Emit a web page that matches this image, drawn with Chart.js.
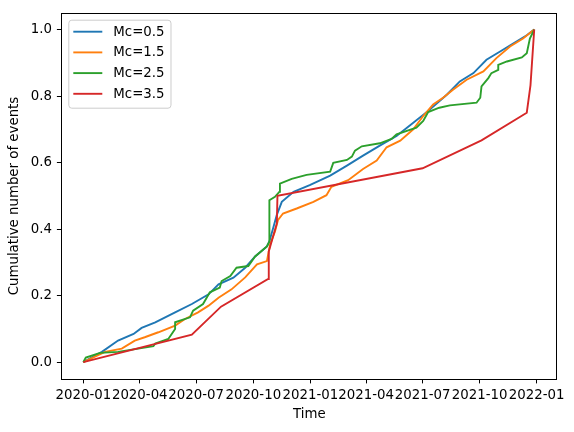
<!DOCTYPE html>
<html>
<head>
<meta charset="utf-8">
<title>Cumulative number of events</title>
<script src="https://cdn.jsdelivr.net/npm/chart.js@4/dist/chart.umd.min.js"></script>
<style>
  html, body { margin: 0; padding: 0; background: #fff; }
  #wrap { width: 574px; height: 432px; }
</style>
</head>
<body>
<div id="wrap"><canvas id="events-chart" width="574" height="432"></canvas></div>
<script>
// Days counted from 2020-01-01, values are the cumulative share of events
const seriesLabels = ['Mc=0.5', 'Mc=1.5', 'Mc=2.5', 'Mc=3.5'];
const seriesColors = ['#1f77b4', '#ff7f0e', '#2ca02c', '#d62728'];

const mc05Days = [0, 30, 56, 81, 94, 116, 148, 175, 202, 218, 242, 261, 277, 296, 300, 306, 312, 320, 339, 365,
  398, 425, 451, 478, 505, 532, 559, 586, 607, 629, 650, 672, 693, 715, 727];
const mc05Values = [0, 0.031, 0.065, 0.085, 0.103, 0.12, 0.15, 0.175, 0.204, 0.234, 0.254, 0.284, 0.318, 0.348, 0.363,
  0.403, 0.443, 0.482, 0.512, 0.532, 0.561, 0.591, 0.621, 0.651, 0.68, 0.72, 0.76, 0.804, 0.844, 0.869,
  0.909, 0.934, 0.958, 0.983, 1.0];

const mc15Days = [0, 35, 62, 83, 99, 121, 148, 164, 185, 202, 218, 239, 261, 280, 296, 301, 309, 314, 322, 344,
  371, 392, 400, 427, 451, 473, 489, 511, 532, 548, 564, 580, 596, 618, 645, 666, 688, 709, 727];
const mc15Values = [0, 0.031, 0.041, 0.065, 0.075, 0.09, 0.11, 0.13, 0.15, 0.17, 0.194, 0.219, 0.255, 0.294, 0.304,
  0.353, 0.393, 0.428, 0.447, 0.462, 0.482, 0.502, 0.527, 0.547, 0.581, 0.606, 0.646, 0.666, 0.7, 0.74,
  0.775, 0.795, 0.819, 0.849, 0.874, 0.914, 0.949, 0.973, 1.0];

const mc25Days = [0, 4, 27, 56, 113, 116, 137, 148, 148, 172, 177, 193, 204, 220, 223, 237, 247, 266, 277, 296,
  300, 300, 309, 316, 317, 336, 360, 398, 403, 425, 433, 438, 449, 478, 497, 505, 537, 548, 556, 574,
  591, 634, 640, 642, 653, 658, 669, 669, 683, 707, 715, 720, 727];
const mc25Values = [0, 0.014, 0.028, 0.031, 0.048, 0.056, 0.07, 0.10, 0.12, 0.135, 0.155, 0.175, 0.21, 0.224, 0.244,
  0.259, 0.284, 0.289, 0.318, 0.348, 0.363, 0.487, 0.497, 0.512, 0.537, 0.551, 0.563, 0.573, 0.599, 0.608,
  0.618, 0.636, 0.649, 0.658, 0.671, 0.685, 0.705, 0.725, 0.752, 0.765, 0.772, 0.78, 0.795, 0.829, 0.854,
  0.869, 0.879, 0.894, 0.904, 0.916, 0.929, 0.973, 1.0];

const mc35Days = [0, 175, 222, 298, 299, 312, 313, 547, 642, 715, 721, 724, 727];
const mc35Values = [0, 0.083, 0.167, 0.25, 0.333, 0.417, 0.5, 0.583, 0.667, 0.75, 0.833, 0.917, 1.0];

const xTickLabels = ['2020-01', '2020-04', '2020-07', '2020-10', '2021-01', '2021-04', '2021-07', '2021-10', '2022-01'];
const yTickValues = [0, 0.2, 0.4, 0.6, 0.8, 1.0];

const FONT = { family: 'DejaVu Sans', size: 13.33 };
const DAY_MS = 86400000;
const START_MS = Date.parse('2020-01-01T00:00:00Z');

// "2020-04" -> days since 2020-01-01
function monthToDays(label) {
  return (Date.parse(label + '-01T00:00:00Z') - START_MS) / DAY_MS;
}
const xTickValues = xTickLabels.map(monthToDays);

function toPoints(days, values) {
  return days.map((d, i) => ({ x: d, y: values[i] }));
}

/**
 * Khung bao quanh vùng vẽ + legend kiểu matplotlib (góc trên trái)
 */
const frameAndLegend = {
  id: 'frameAndLegend',
  afterDatasetsDraw(chart) {
    const { ctx, chartArea: a } = chart;
    ctx.save();
    ctx.strokeStyle = '#000';
    ctx.lineWidth = 1;
    ctx.strokeRect(Math.round(a.left) + 0.5, Math.round(a.top) + 0.5,
      Math.round(a.right - a.left) - 1, Math.round(a.bottom - a.top));

    ctx.font = `${FONT.size}px "${FONT.family}"`;
    const sets = chart.data.datasets;
    const textW = Math.max(...sets.map(ds => ctx.measureText(ds.label).width));
    const bx = a.left + 7, by = a.top + 6.7;
    const bw = 45 + textW + 6, bh = 88;

    ctx.beginPath();
    ctx.roundRect(bx + 0.5, by + 0.5, bw, bh, 3);
    ctx.fillStyle = 'rgba(255,255,255,0.8)';
    ctx.fill();
    ctx.strokeStyle = '#cccccc';
    ctx.stroke();

    ctx.textBaseline = 'middle';
    ctx.textAlign = 'left';
    sets.forEach((ds, i) => {
      const y = by + 12 + i * 20.7;
      ctx.beginPath();
      ctx.moveTo(bx + 5, y);
      ctx.lineTo(bx + 34, y);
      ctx.strokeStyle = ds.borderColor;
      ctx.lineWidth = ds.borderWidth;
      ctx.stroke();
      ctx.fillStyle = '#000';
      ctx.fillText(ds.label, bx + 45, y + 0.5);
    });
    ctx.restore();
  }
};

function renderChart() {
  const ctx = document.getElementById('events-chart');
  Chart.defaults.color = '#000';
  Chart.defaults.font.family = FONT.family;
  Chart.defaults.font.size = FONT.size;

  const dayArrays = [mc05Days, mc15Days, mc25Days, mc35Days];
  const valueArrays = [mc05Values, mc15Values, mc25Values, mc35Values];

  const datasets = seriesLabels.map((label, i) => ({
    label: label,
    data: toPoints(dayArrays[i], valueArrays[i]),
    borderColor: seriesColors[i],
    backgroundColor: seriesColors[i],
    borderWidth: 1.9,
    pointRadius: 0,
    tension: 0,
    fill: false,
    order: seriesLabels.length - i // red drawn last, like matplotlib
  }));

  const tickGrid = { drawOnChartArea: false, drawTicks: true, tickLength: 4.4, tickColor: '#000', tickWidth: 1 };

  new Chart(ctx, {
    type: 'line',
    data: { datasets: datasets },
    options: {
      responsive: false,
      animation: false,
      events: [],
      layout: { padding: { left: 0, top: 9.3, right: 16.7, bottom: 0 } },
      plugins: { legend: { display: false }, tooltip: { enabled: false } },
      scales: {
        x: {
          type: 'linear',
          min: -35.5,
          max: 764.2,
          grid: tickGrid,
          border: { display: false },
          afterFit: scale => { scale.height = 53; },
          afterBuildTicks: scale => { scale.ticks = xTickValues.map(v => ({ value: v })); },
          ticks: {
            autoSkip: false,
            maxRotation: 0,
            minRotation: 0,
            padding: 4,
            font: FONT,
            callback: (value, index) => xTickLabels[index]
          },
          title: { display: true, text: 'Time', font: FONT, padding: { top: 0, bottom: 9.5 } }
        },
        y: {
          type: 'linear',
          min: -0.0505,
          max: 1.0497,
          grid: tickGrid,
          border: { display: false },
          afterFit: scale => { scale.width = 61.3; },
          afterBuildTicks: scale => { scale.ticks = yTickValues.map(v => ({ value: v })); },
          ticks: {
            padding: 5,
            font: FONT,
            callback: value => Number(value).toFixed(1)
          },
          title: { display: true, text: 'Cumulative number of events', font: FONT, padding: { top: 6.8, bottom: 0 } }
        }
      }
    },
    plugins: [frameAndLegend]
  });
}

window.addEventListener('DOMContentLoaded', renderChart);
</script>
</body>
</html>
